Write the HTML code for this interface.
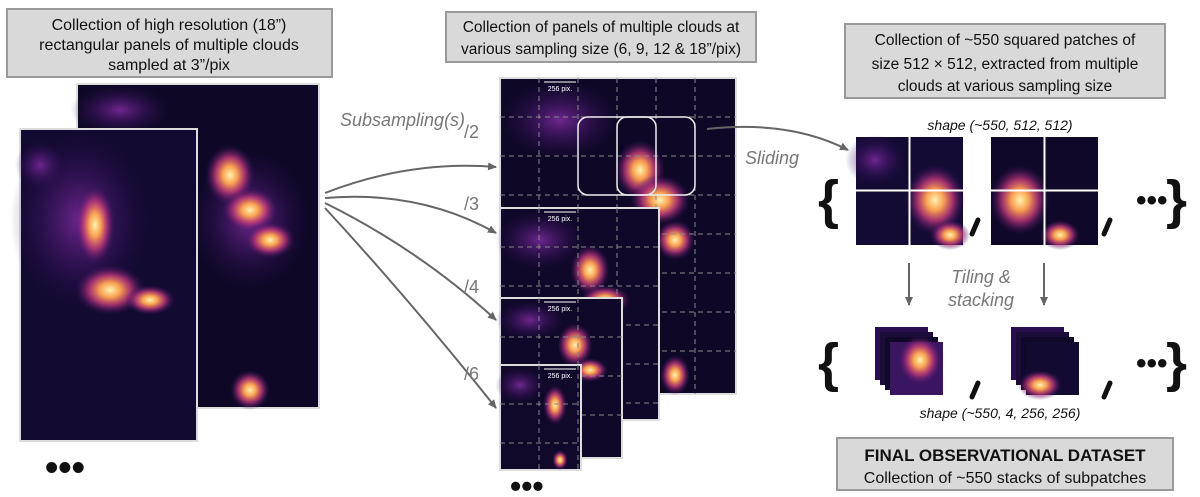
<!DOCTYPE html>
<html><head><meta charset="utf-8"><style>
html,body{margin:0;padding:0;background:#fff}
svg{display:block}
text{font-family:"Liberation Sans",sans-serif}
</style></head><body>
<svg width="1200" height="497" viewBox="0 0 1200 497" xmlns="http://www.w3.org/2000/svg">
<defs>
<radialGradient id="hot" cx="50%" cy="50%" r="50%"><stop offset="0" stop-color="#fff3b0"/><stop offset="0.3" stop-color="#f9a050"/><stop offset="0.6" stop-color="#c23a7a" stop-opacity="0.8"/><stop offset="1" stop-color="#3a0f6a" stop-opacity="0"/></radialGradient>
<radialGradient id="warm" cx="50%" cy="50%" r="50%"><stop offset="0" stop-color="#7a2a9a" stop-opacity="0.9"/><stop offset="1" stop-color="#2a0b55" stop-opacity="0"/></radialGradient>
<marker id="ar" markerWidth="10" markerHeight="10" refX="8" refY="5" orient="auto" markerUnits="userSpaceOnUse"><path d="M0,1 L9,5 L0,9 Z" fill="#666"/></marker>
</defs>

<rect x="7" y="9" width="325" height="68" fill="#d9d9d9" stroke="#999" stroke-width="2"/>
<text x="169" y="30" font-size="16" text-anchor="middle" fill="#111">Collection of high resolution (18”)</text>
<text x="169" y="50" font-size="16" text-anchor="middle" fill="#111">rectangular panels of multiple clouds</text>
<text x="169" y="70" font-size="16" text-anchor="middle" fill="#111">sampled at 3”/pix</text>

<rect x="446" y="12" width="310" height="50" fill="#d9d9d9" stroke="#999" stroke-width="2"/>
<text x="601" y="32" font-size="15.5" text-anchor="middle" fill="#111">Collection of panels of multiple clouds at</text>
<text x="601" y="54" font-size="15.5" text-anchor="middle" fill="#111">various sampling size (6, 9, 12 &amp; 18”/pix)</text>

<rect x="845" y="24" width="320" height="74" fill="#d9d9d9" stroke="#999" stroke-width="2"/>
<text x="1005" y="45" font-size="15.5" text-anchor="middle" fill="#111">Collection of ~550 squared patches of</text>
<text x="1005" y="69" font-size="15.5" text-anchor="middle" fill="#111">size 512 × 512, extracted from multiple</text>
<text x="1005" y="91" font-size="15.5" text-anchor="middle" fill="#111">clouds at various sampling size</text>

<rect x="77" y="84" width="242" height="324" fill="#0e0826" stroke="#ddd" stroke-width="2"/>
<ellipse cx="250" cy="220" rx="60" ry="70" fill="url(#warm)"/>
<ellipse cx="230" cy="175" rx="25" ry="30" fill="url(#hot)"/>
<ellipse cx="250" cy="210" rx="28" ry="22" fill="url(#hot)"/>
<ellipse cx="270" cy="240" rx="25" ry="18" fill="url(#hot)"/>
<ellipse cx="250" cy="390" rx="20" ry="20" fill="url(#hot)"/>
<ellipse cx="120" cy="110" rx="50" ry="25" fill="url(#warm)"/>
<rect x="20" y="129" width="177" height="312" fill="#120a30" stroke="#ddd" stroke-width="2"/>
<ellipse cx="80" cy="220" rx="70" ry="90" fill="url(#warm)"/>
<ellipse cx="95" cy="225" rx="20" ry="40" fill="url(#hot)"/>
<ellipse cx="110" cy="290" rx="35" ry="25" fill="url(#hot)"/>
<ellipse cx="150" cy="300" rx="25" ry="15" fill="url(#hot)"/>
<ellipse cx="40" cy="165" rx="25" ry="25" fill="url(#warm)"/>
<text x="45" y="480" font-size="38" font-weight="bold" fill="#111">•••</text>

<g fill="none" stroke="#666" stroke-width="2">
<path d="M325 193 Q410 160 496 167" marker-end="url(#ar)"/>
<path d="M325 198 Q420 190 496 233" marker-end="url(#ar)"/>
<path d="M325 203 Q420 250 496 320" marker-end="url(#ar)"/>
<path d="M325 208 Q410 300 496 408" marker-end="url(#ar)"/>
</g>
<text x="340" y="126" font-size="18" font-style="italic" fill="#777">Subsampling(s)</text>
<text x="464" y="138" font-size="18" fill="#777">/2</text>
<text x="464" y="210" font-size="18" fill="#777">/3</text>
<text x="464" y="293" font-size="18" fill="#777">/4</text>
<text x="464" y="380" font-size="18" fill="#777">/6</text>

<g>
<rect x="500" y="78" width="236" height="316" fill="#0e0826" stroke="#ddd" stroke-width="2"/>
<ellipse cx="560" cy="120" rx="60" ry="40" fill="url(#warm)"/>
<ellipse cx="640" cy="170" rx="25" ry="30" fill="url(#hot)"/>
<ellipse cx="660" cy="200" rx="30" ry="25" fill="url(#hot)"/>
<ellipse cx="675" cy="240" rx="20" ry="20" fill="url(#hot)"/>
<ellipse cx="675" cy="375" rx="15" ry="20" fill="url(#hot)"/>
<g stroke="#888" stroke-dasharray="5,4" stroke-width="1">
<path d="M539 78V394M578 78V394M617 78V394M656 78V394M695 78V394M500 117H736M500 156H736M500 195H736M500 234H736M500 273H736M500 312H736M500 351H736"/>
</g>
<rect x="578" y="117" width="78" height="78" rx="10" fill="none" stroke="#eee" stroke-width="1.5"/>
<rect x="617" y="117" width="78" height="78" rx="10" fill="none" stroke="#eee" stroke-width="1.5"/>
<path d="M544 82H576" stroke="#fff" stroke-width="1"/><text x="560" y="91" font-size="7" fill="#fff" text-anchor="middle">256 pix.</text>
</g>
<g>
<rect x="500" y="208" width="159" height="212" fill="#0f0828" stroke="#ddd" stroke-width="2"/>
<ellipse cx="540" cy="240" rx="45" ry="30" fill="url(#warm)"/>
<ellipse cx="590" cy="270" rx="20" ry="25" fill="url(#hot)"/>
<ellipse cx="605" cy="300" rx="25" ry="15" fill="url(#hot)"/>
<g stroke="#888" stroke-dasharray="5,4"><path d="M539 208V420M578 208V420M617 208V420M500 247H659M500 286H659M500 325H659M500 364H659M500 403H659"/></g>
<path d="M544 212H576" stroke="#fff"/><text x="560" y="221" font-size="7" fill="#fff" text-anchor="middle">256 pix.</text>
</g>
<g>
<rect x="500" y="298" width="122" height="160" fill="#0f0828" stroke="#ddd" stroke-width="2"/>
<ellipse cx="530" cy="320" rx="35" ry="20" fill="url(#warm)"/>
<ellipse cx="575" cy="345" rx="18" ry="22" fill="url(#hot)"/>
<ellipse cx="590" cy="370" rx="18" ry="12" fill="url(#hot)"/>
<g stroke="#888" stroke-dasharray="5,4"><path d="M539 298V458M578 298V458M500 337H622M500 376H622M500 415H622"/></g>
<path d="M544 302H576" stroke="#fff"/><text x="560" y="311" font-size="7" fill="#fff" text-anchor="middle">256 pix.</text>
</g>
<g>
<rect x="500" y="365" width="81" height="105" fill="#100929" stroke="#ddd" stroke-width="2"/>
<ellipse cx="520" cy="385" rx="25" ry="18" fill="url(#warm)"/>
<ellipse cx="555" cy="405" rx="12" ry="20" fill="url(#hot)"/>
<ellipse cx="560" cy="460" rx="8" ry="10" fill="url(#hot)"/>
<g stroke="#888" stroke-dasharray="5,4"><path d="M539 365V470M578 365V470M500 404H581M500 443H581"/></g>
<path d="M544 369H576" stroke="#fff"/><text x="560" y="378" font-size="7" fill="#fff" text-anchor="middle">256 pix.</text>
</g>
<text x="510" y="497" font-size="32" font-weight="bold" fill="#111">•••</text>

<path d="M707 129 Q790 120 848 150" fill="none" stroke="#666" stroke-width="2" marker-end="url(#ar)"/>
<text x="745" y="164" font-size="18" font-style="italic" fill="#777">Sliding</text>

<text x="1000" y="130" font-size="14" font-style="italic" fill="#111" text-anchor="middle">shape (~550, 512, 512)</text>
<g>
<rect x="856" y="137" width="107" height="108" fill="#140b35"/>
<ellipse cx="875" cy="160" rx="30" ry="25" fill="url(#warm)"/>
<ellipse cx="935" cy="200" rx="30" ry="35" fill="url(#hot)"/>
<ellipse cx="950" cy="235" rx="20" ry="15" fill="url(#hot)"/>
<path d="M856 190.5H963M909.5 137V245" stroke="#fff" stroke-width="2"/>
<rect x="991" y="137" width="107" height="108" fill="#0f0828"/>
<ellipse cx="1020" cy="200" rx="30" ry="35" fill="url(#hot)"/>
<ellipse cx="1060" cy="235" rx="20" ry="15" fill="url(#hot)"/>
<path d="M991 190.5H1098M1044.5 137V245" stroke="#fff" stroke-width="2"/>
</g>
<text x="818" y="218" font-size="54" font-weight="bold" fill="#111">{</text>
<text x="1166" y="218" font-size="54" font-weight="bold" fill="#111">}</text>
<path d="M978 220 L972 234" stroke="#111" stroke-width="5" stroke-linecap="round"/>
<path d="M1110 220 L1104 234" stroke="#111" stroke-width="5" stroke-linecap="round"/>
<text x="1136" y="210" font-size="30" font-weight="bold" fill="#111">•••</text>

<path d="M909 263V305" stroke="#666" stroke-width="2" marker-end="url(#ar)"/>
<path d="M1044 263V305" stroke="#666" stroke-width="2" marker-end="url(#ar)"/>
<text x="981" y="283" font-size="18" font-style="italic" fill="#777" text-anchor="middle">Tiling &amp;</text>
<text x="981" y="306" font-size="18" font-style="italic" fill="#777" text-anchor="middle">stacking</text>

<g>
<rect x="875" y="327" width="53" height="53" fill="#2a0f50"/>
<rect x="880" y="332" width="53" height="53" fill="#1a0b38"/>
<rect x="885" y="337" width="53" height="53" fill="#100828"/>
<rect x="890" y="342" width="53" height="53" fill="#3a1560"/>
<ellipse cx="920" cy="360" rx="22" ry="25" fill="url(#hot)"/>
<rect x="1011" y="327" width="53" height="53" fill="#2a0f50"/>
<rect x="1016" y="332" width="53" height="53" fill="#1a0b38"/>
<rect x="1021" y="337" width="53" height="53" fill="#100828"/>
<rect x="1026" y="342" width="53" height="53" fill="#120a30"/>
<ellipse cx="1040" cy="385" rx="22" ry="15" fill="url(#hot)"/>
</g>
<text x="818" y="381" font-size="54" font-weight="bold" fill="#111">{</text>
<text x="1166" y="381" font-size="54" font-weight="bold" fill="#111">}</text>
<path d="M978 383 L972 397" stroke="#111" stroke-width="5" stroke-linecap="round"/>
<path d="M1110 383 L1104 397" stroke="#111" stroke-width="5" stroke-linecap="round"/>
<text x="1136" y="373" font-size="30" font-weight="bold" fill="#111">•••</text>
<text x="1000" y="418" font-size="14" font-style="italic" fill="#111" text-anchor="middle">shape (~550, 4, 256, 256)</text>

<rect x="837" y="438" width="336" height="52" fill="#d9d9d9" stroke="#999" stroke-width="2"/>
<text x="1005" y="461" font-size="17" font-weight="bold" text-anchor="middle" fill="#111">FINAL OBSERVATIONAL DATASET</text>
<text x="1005" y="483" font-size="16" text-anchor="middle" fill="#111">Collection of ~550 stacks of subpatches</text>
</svg>
</body></html>
